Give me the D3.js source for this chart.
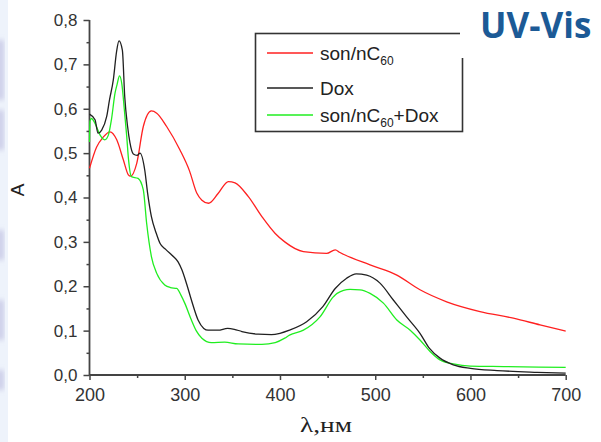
<!DOCTYPE html>
<html>
<head>
<meta charset="utf-8">
<script src="https://cdn.jsdelivr.net/npm/d3@7"></script>
<style>
  html, body { margin: 0; padding: 0; background: #fff; }
  svg { display: block; }
</style>
</head>
<body>
<svg id="chart" width="601" height="442" font-family="Liberation Sans, Arial, sans-serif"></svg>
<script>
// Absorbance spectra, wavelength in nm
const lambdaRed = [200, 207.5, 214, 221.5, 228.6, 235.5, 240.8, 243, 249.6, 256.5, 265, 270.6, 281, 295, 305, 312.6, 318, 325, 335, 345.8, 352.8, 366.8, 381, 395, 405, 424.6, 449, 458, 463, 494.6, 522.7, 547, 575, 610, 645, 673, 700];
const absRed    = [0.466, 0.514, 0.535, 0.548, 0.53, 0.485, 0.451, 0.448, 0.477, 0.56, 0.595, 0.59, 0.56, 0.507, 0.46, 0.41, 0.394, 0.387, 0.409, 0.436, 0.433, 0.402, 0.357, 0.319, 0.3, 0.278, 0.274, 0.282, 0.276, 0.248, 0.225, 0.192, 0.165, 0.143, 0.128, 0.113, 0.099];

const lambdaDox = [200, 205.8, 209, 212.8, 218, 221, 225, 228.5, 231, 234.5, 237, 240, 242.5, 246, 250, 253, 258, 261, 265, 270, 274, 280, 288, 293, 297, 302, 307, 314, 320, 324.5, 335, 345, 352, 360, 377, 391, 400, 410, 428, 445, 458, 470, 480, 491, 505, 519, 533, 547, 557, 568, 582, 600, 628, 670, 700];
const absDox    = [0.588, 0.575, 0.545, 0.552, 0.582, 0.62, 0.665, 0.73, 0.753, 0.732, 0.627, 0.56, 0.523, 0.498, 0.495, 0.5, 0.462, 0.41, 0.357, 0.32, 0.297, 0.283, 0.267, 0.255, 0.237, 0.205, 0.169, 0.124, 0.105, 0.101, 0.101, 0.105, 0.103, 0.098, 0.092, 0.091, 0.094, 0.101, 0.12, 0.154, 0.195, 0.218, 0.228, 0.225, 0.207, 0.169, 0.131, 0.094, 0.06, 0.038, 0.023, 0.015, 0.01, 0.006, 0.004];

const lambdaMix = [200, 200.5, 202, 205.8, 211, 216, 219.7, 223, 226.8, 229, 231.5, 234, 236.5, 239, 241, 244, 251, 256.5, 260, 265, 270.6, 279, 285, 291.6, 296, 300, 307, 312, 318, 328, 342, 356, 381, 395, 405, 410, 424.6, 442, 456, 460, 473.6, 484, 494.6, 508.6, 522.7, 536.7, 547, 557.6, 568, 582, 600, 635, 700];
const absMix    = [0.525, 0.572, 0.578, 0.567, 0.541, 0.53, 0.54, 0.575, 0.635, 0.655, 0.674, 0.655, 0.6, 0.54, 0.485, 0.447, 0.443, 0.417, 0.342, 0.267, 0.229, 0.203, 0.197, 0.195, 0.18, 0.162, 0.124, 0.1, 0.083, 0.073, 0.074, 0.07, 0.069, 0.073, 0.083, 0.09, 0.101, 0.131, 0.176, 0.184, 0.193, 0.192, 0.184, 0.162, 0.124, 0.101, 0.079, 0.053, 0.034, 0.025, 0.02, 0.019, 0.017];

const seriesNames  = ["son/nC60", "Dox", "son/nC60+Dox"];
const seriesColors = ["#ff2020", "#202020", "#20ee20"];

const xTicks = [200, 300, 400, 500, 600, 700];
const xTickLabels = ["200", "300", "400", "500", "600", "700"];
const xMinorTicks = [250, 350, 450, 550, 650];
const yTicks = [0, 0.1, 0.2, 0.3, 0.4, 0.5, 0.6, 0.7, 0.8];
const yTickLabels = ["0,0", "0,1", "0,2", "0,3", "0,4", "0,5", "0,6", "0,7", "0,8"];
const yMinorTicks = [0.05, 0.15, 0.25, 0.35, 0.45, 0.55, 0.65, 0.75];

const svg = d3.select("#chart");
const sans = "Liberation Sans, Arial, sans-serif";

// faint slide decoration along the left edge
const defs = svg.append("defs");
defs.append("filter").attr("id", "soft")
  .append("feGaussianBlur").attr("stdDeviation", 2.5);
svg.append("rect").attr("x", 0).attr("y", 0).attr("width", 8).attr("height", 442)
  .attr("fill", "#eef3fb");
const edge = svg.append("g").attr("filter", "url(#soft)");
[[40, 60], [110, 40], [230, 30], [300, 40], [370, 20]].forEach(([y, h]) => {
  edge.append("rect").attr("x", -3).attr("y", y).attr("width", 7).attr("height", h)
    .attr("fill", "#b4b4dc").attr("opacity", 0.6);
});

const x = d3.scaleLinear().domain([200, 700]).range([89.5, 565.7]);
const y = d3.scaleLinear().domain([0, 0.8]).range([375, 20]);

const axisColor = "#444";

// x axis
const gx = svg.append("g").attr("transform", "translate(0,375)");
gx.call(d3.axisBottom(x).tickValues(xTicks).tickSize(5).tickPadding(8)
  .tickFormat((d, i) => xTickLabels[i]));
gx.append("g").call(d3.axisBottom(x).tickValues(xMinorTicks).tickSize(3).tickFormat(""))
  .select(".domain").remove();

// y axis
const gy = svg.append("g").attr("transform", "translate(89.5,0)");
gy.call(d3.axisLeft(y).tickValues(yTicks).tickSize(6).tickPadding(6)
  .tickFormat((d, i) => yTickLabels[i]));
gy.append("g").call(d3.axisLeft(y).tickValues(yMinorTicks).tickSize(3).tickFormat(""))
  .select(".domain").remove();

svg.selectAll(".domain").attr("stroke", axisColor).attr("stroke-width", 1.8);
gx.select(".domain").attr("d", `M${x(200)},0H${x(700)}`);
gy.select(".domain").attr("d", `M0,${y(0)}V${y(0.8)}`);
svg.selectAll(".tick line").attr("stroke", axisColor).attr("stroke-width", 1.5);
gx.attr("font-family", sans).attr("font-size", 18);
gy.attr("font-family", sans).attr("font-size", 17);
svg.selectAll(".tick text").attr("fill", "#333");

// spectra
const line = d3.line().x(d => x(d[0])).y(d => y(d[1])).curve(d3.curveMonotoneX);
const series = [
  d3.zip(lambdaRed, absRed),
  d3.zip(lambdaDox, absDox),
  d3.zip(lambdaMix, absMix)
];
// draw order: red, green, black on top
[0, 2, 1].forEach(i => {
  svg.append("path").datum(series[i])
    .attr("fill", "none")
    .attr("stroke", seriesColors[i])
    .attr("stroke-width", 1.3)
    .attr("d", line);
});

// axis titles
svg.append("text")
  .attr("transform", "translate(24,190) rotate(-90)")
  .attr("text-anchor", "middle")
  .attr("font-family", sans)
  .attr("font-size", 19).attr("fill", "#222")
  .text("A");

svg.append("text")
  .attr("x", 300).attr("y", 432)
  .attr("font-family", "Liberation Serif, 'Times New Roman', serif")
  .attr("font-size", 21).attr("fill", "#222")
  .attr("textLength", 52).attr("lengthAdjust", "spacingAndGlyphs")
  .text("λ,нм");

// legend
const legend = svg.append("g").attr("font-family", sans);
legend.append("rect")
  .attr("x", 255.5).attr("y", 33.5).attr("width", 207).attr("height", 98)
  .attr("fill", "#fff").attr("stroke", "#333").attr("stroke-width", 1.6);
const rowsY = [53, 88, 115];
seriesNames.forEach((name, i) => {
  legend.append("line")
    .attr("x1", 267).attr("x2", 313).attr("y1", rowsY[i]).attr("y2", rowsY[i])
    .attr("stroke", seriesColors[i]).attr("stroke-width", 1.3);
  const t = legend.append("text")
    .attr("x", 320).attr("y", rowsY[i] + 7)
    .attr("font-size", 19).attr("fill", "#222");
  const m = name.match(/^(son\/nC)60(.*)$/);
  if (m) {
    t.append("tspan").text(m[1]);
    t.append("tspan").attr("font-size", 12).attr("dy", 5).text("60");
    if (m[2]) t.append("tspan").attr("dy", -5).text(m[2]);
  } else {
    t.text(name);
  }
});

// slide heading
svg.append("rect").attr("x", 460).attr("y", 0).attr("width", 141).attr("height", 58)
  .attr("fill", "#fff");
svg.append("text")
  .attr("x", 480).attr("y", 38)
  .attr("font-family", "'Open Sans', sans-serif")
  .attr("font-weight", 700).attr("font-size", 35)
  .attr("fill", "#1c5a96")
  .text("UV-Vis");
</script>
</body>
</html>
